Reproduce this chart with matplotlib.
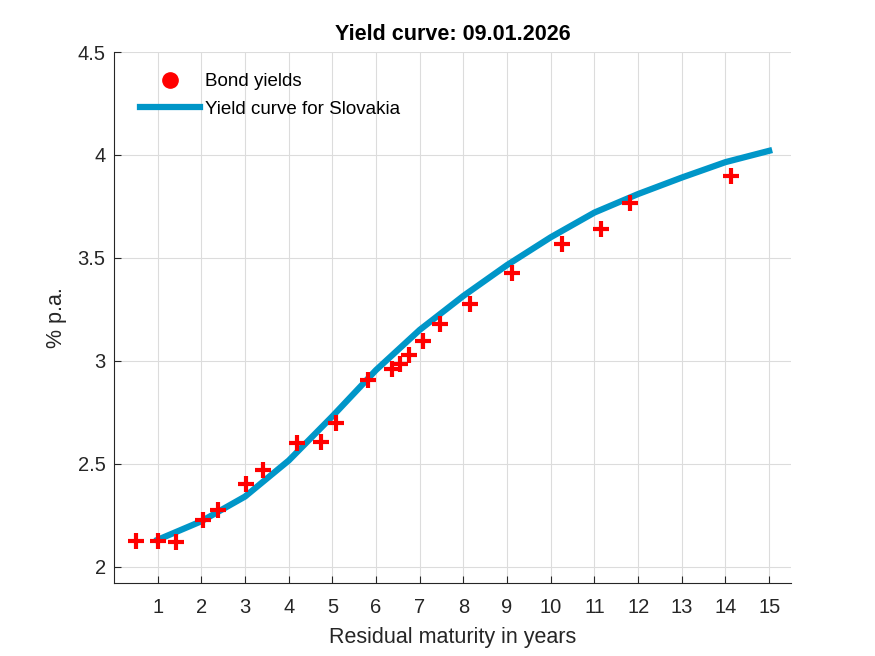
import numpy as np
import matplotlib
matplotlib.use("Agg")
import matplotlib.pyplot as plt
from matplotlib.lines import Line2D

# bond yields (residual maturity in years, % p.a.)
bond_maturity = [0.50, 1.01, 1.43, 2.04, 2.38, 3.02, 3.40, 4.19, 4.73, 5.09,
                 5.81, 6.37, 6.55, 6.76, 7.08, 7.46, 8.15, 9.12, 10.26, 11.15,
                 11.82, 14.12]
bond_yield = [2.122, 2.122, 2.117, 2.227, 2.276, 2.403, 2.471, 2.601, 2.604, 2.695,
              2.904, 2.961, 2.986, 3.026, 3.096, 3.177, 3.278, 3.424, 3.567, 3.640,
              3.767, 3.897]

# fitted curve at integer maturities
curve_maturity = list(range(1, 16))
curve_yield = [2.13, 2.22, 2.34, 2.515, 2.73, 2.955, 3.15, 3.315, 3.465, 3.60,
               3.72, 3.81, 3.89, 3.965, 4.02]

plt.rcParams['font.family'] = ['Liberation Sans', 'DejaVu Sans']
txt = '#262626'

fig = plt.figure(figsize=(8.75, 6.56), dpi=100)
ax = fig.add_axes([0.1303, 0.1113, 0.7737, 0.8094])

ax.plot(bond_maturity, bond_yield, linestyle='none', marker='+', color='#ff0000',
        markersize=12, markeredgewidth=3, zorder=3)
ax.plot(curve_maturity, curve_yield, color='#0096c8', linewidth=4.5, zorder=2)

ax.set_xlim(0, 15.5)
ax.set_ylim(1.92, 4.5)
ax.set_xticks(range(1, 16))
ax.set_yticks([2, 2.5, 3, 3.5, 4, 4.5])
ax.set_yticklabels(['2', '2.5', '3', '3.5', '4', '4.5'])

ax.grid(True, color='#dcdcdc', linewidth=0.8)
ax.set_axisbelow(True)
for s in ['top', 'right']:
    ax.spines[s].set_visible(False)
for s in ['left', 'bottom']:
    ax.spines[s].set_color(txt)
    ax.spines[s].set_linewidth(0.8)
ax.tick_params(direction='in', length=5, width=0.8, colors=txt, labelsize=14.5)
ax.tick_params(axis='x', pad=11)
ax.tick_params(axis='y', pad=6)

ax.set_xlabel('Residual maturity in years', fontsize=15.5, color=txt, labelpad=7)
ax.set_ylabel('% p.a.', fontsize=15.5, color=txt, labelpad=8)
ax.set_title('Yield curve: 09.01.2026', fontsize=15.5, fontweight='bold', color='black', pad=9)

handles = [Line2D([], [], linestyle='none', marker='o', color='#ff0000', markersize=11),
           Line2D([], [], color='#0096c8', linewidth=4.5)]
ax.legend(handles, ['Bond yields', 'Yield curve for Slovakia'], loc='upper left',
          frameon=False, fontsize=13.5, handlelength=3.2, handletextpad=0.3,
          labelspacing=0.55, bbox_to_anchor=(0.013, 0.992))

fig.savefig('out.png', dpi=100)
